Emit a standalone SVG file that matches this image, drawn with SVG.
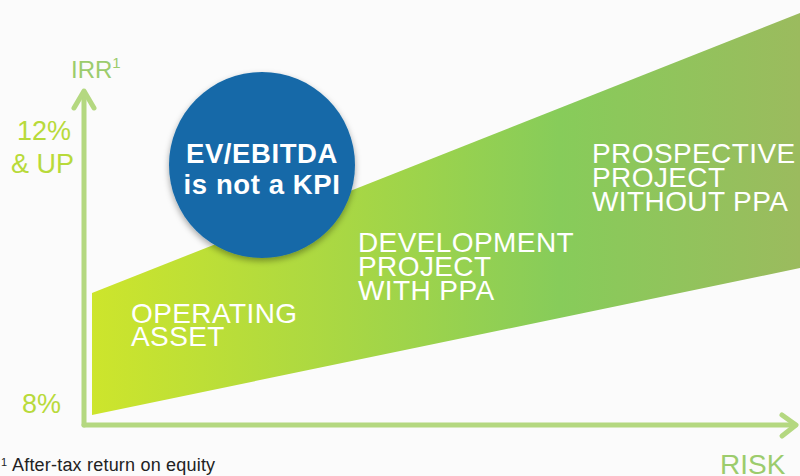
<svg xmlns="http://www.w3.org/2000/svg" width="800" height="476" viewBox="0 0 800 476">
  <defs>
    <linearGradient id="wedgeGrad" gradientUnits="userSpaceOnUse" x1="92" y1="0" x2="800" y2="0">
      <stop offset="0" stop-color="#cde52c"/>
      <stop offset="0.36" stop-color="#a8d744"/>
      <stop offset="0.66" stop-color="#87cc5a"/>
      <stop offset="1" stop-color="#9bbb5e"/>
    </linearGradient>
    <filter id="shadow" x="-20%" y="-20%" width="140%" height="150%">
      <feDropShadow dx="0" dy="3" stdDeviation="3" flood-color="#000" flood-opacity="0.35"/>
    </filter>
    <style>
      .axis { stroke: #b4d880; stroke-width: 5; fill: none; stroke-linecap: round; stroke-linejoin: round; }
      .lbl { font-family: "Liberation Sans", Arial, sans-serif; }
      .wlbl { font-family: "Liberation Sans", Arial, sans-serif; font-size: 28px; fill: #ffffff; letter-spacing: 0.4px; }
      .ylbl { fill: #b8da3a; font-size: 27px; }
      .glbl { fill: #9ccc6c; }
      .clbl { font-family: "Liberation Sans", Arial, sans-serif; font-size: 27.5px; font-weight: bold; fill: #ffffff; letter-spacing: 0.6px; }
    </style>
  </defs>

  <rect x="0" y="0" width="800" height="476" fill="#fbfbfb"/>

  <g id="wedge">
    <polygon points="92,293 800,13 800,268 92,415" fill="url(#wedgeGrad)"/>
  </g>

  <g id="connectors">
    <polyline class="axis" points="84,425 84,92"/>
    <polyline class="axis" points="74,108 84,91 94,108"/>
    <polyline class="axis" points="84,425 795,425"/>
    <polyline class="axis" points="782,415 796,425 782,436"/>
  </g>

  <g id="axis-labels" class="lbl">
    <text class="glbl" x="71" y="78" font-size="24">IRR<tspan font-size="15" dy="-10">1</tspan></text>
    <text class="ylbl" x="17" y="140">12%</text>
    <text class="ylbl" x="11" y="173">&amp; UP</text>
    <text class="ylbl" x="22" y="413">8%</text>
    <text class="glbl" x="720" y="474" font-size="28">RISK</text>
  </g>

  <g id="operating-asset">
    <text class="wlbl" x="131" y="323">OPERATING</text>
    <text class="wlbl" x="131" y="346">ASSET</text>
  </g>

  <g id="development-project">
    <text class="wlbl" x="358" y="252">DEVELOPMENT</text>
    <text class="wlbl" x="358" y="276">PROJECT</text>
    <text class="wlbl" x="358" y="300">WITH PPA</text>
  </g>

  <g id="prospective-project">
    <text class="wlbl" x="592" y="163">PROSPECTIVE</text>
    <text class="wlbl" x="592" y="187">PROJECT</text>
    <text class="wlbl" x="592" y="211">WITHOUT PPA</text>
  </g>

  <g id="kpi-circle">
    <circle cx="262" cy="165" r="93" fill="#1569a8" filter="url(#shadow)"/>
    <text class="clbl" x="262" y="163" text-anchor="middle">EV/EBITDA</text>
    <text class="clbl" x="262" y="194" text-anchor="middle">is not a KPI</text>
  </g>

  <g id="footnote" class="lbl">
    <text x="1" y="466" font-size="11" fill="#222222">1</text>
    <text x="12" y="471" font-size="18" fill="#222222" letter-spacing="0.2">After-tax return on equity</text>
  </g>
</svg>
